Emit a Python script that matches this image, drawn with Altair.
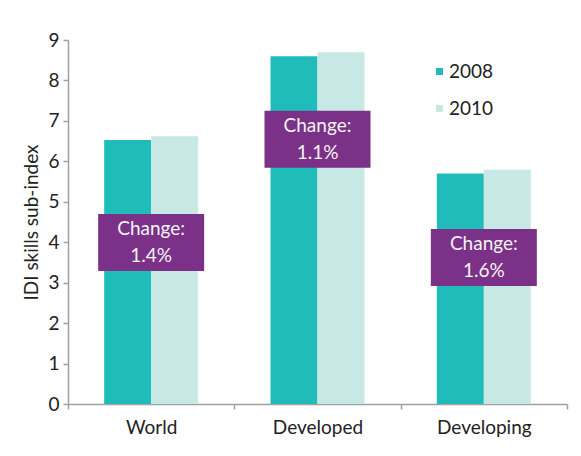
import altair as alt
import pandas as pd

groups = ["World", "Developed", "Developing"]
years = ["2008", "2010"]
v2008 = [6.53, 8.60, 5.70]
v2010 = [6.62, 8.70, 5.79]
changes = ["1.4%", "1.1%", "1.6%"]
box_top = [4.70, 7.25, 4.33]
box_bottom = [3.29, 5.84, 2.92]

FONT = "Lato"
TEAL = "#20bcb9"
LIGHT = "#c8e8e6"
PURPLE = "#7b3187"
TXT = "#222222"
GREY = "#a0a0a0"

rows = []
for g, a, b in zip(groups, v2008, v2010):
    rows.append({"group": g, "year": years[0], "value": a})
    rows.append({"group": g, "year": years[1], "value": b})
bars_df = pd.DataFrame(rows)

lab_df = pd.DataFrame({
    "group": groups,
    "top": box_top,
    "bottom": box_bottom,
    "mid": [(t + b) / 2 for t, b in zip(box_top, box_bottom)],
    "text": ["Change:\n" + c for c in changes],
})

xscale = alt.Scale(domain=groups, paddingInner=0, paddingOuter=0)
yscale = alt.Scale(domain=[0, 9], nice=False)

bars = alt.Chart(bars_df).mark_bar().encode(
    x=alt.X("group:N", scale=xscale, sort=groups,
            axis=alt.Axis(title=None, labelAngle=0, tickBand="extent",
                          labelFontSize=19, labelFont=FONT, labelColor=TXT,
                          labelPadding=9, tickSize=5, tickColor=GREY,
                          domainColor=GREY, domainWidth=1.5, tickWidth=1.5)),
    xOffset=alt.XOffset("year:N", scale=alt.Scale(paddingInner=0, paddingOuter=0.77)),
    y=alt.Y("value:Q", scale=yscale,
            axis=alt.Axis(title="IDI skills sub-index", values=list(range(10)),
                          grid=False, labelFontSize=19, labelFont=FONT,
                          labelColor=TXT, labelPadding=4, tickSize=5,
                          tickColor=GREY, domainColor=GREY, domainWidth=1.5,
                          tickWidth=1.5, titleFont=FONT, titleFontSize=19,
                          titleFontWeight="normal", titleColor=TXT,
                          titleX=-27, titleY=182)),
    color=alt.Color("year:N", scale=alt.Scale(domain=years, range=[TEAL, LIGHT]),
                    legend=alt.Legend(title=None, orient="none", legendX=362,
                                      legendY=22, symbolType="square",
                                      symbolSize=49, symbolStrokeWidth=0,
                                      labelFontSize=19, labelFont=FONT,
                                      labelColor=TXT, labelOffset=0,
                                      rowPadding=17, padding=0)),
)

boxes = alt.Chart(lab_df).mark_bar(width=106, color=PURPLE).encode(
    x=alt.X("group:N", scale=xscale, sort=groups),
    y=alt.Y("top:Q", scale=yscale),
    y2="bottom:Q",
)

texts = alt.Chart(lab_df).mark_text(
    lineBreak="\n", lineHeight=27, fontSize=19, font=FONT, color="#f4f4f4",
    baseline="middle", align="center", dy=-13.5
).encode(
    x=alt.X("group:N", scale=xscale, sort=groups),
    y=alt.Y("mid:Q", scale=yscale),
    text="text:N",
)

chart = alt.layer(bars, boxes, texts).properties(
    width=499, height=364,
    autosize=alt.AutoSizeParams(type="none"),
    padding={"left": 60, "top": 32, "right": 6, "bottom": 44},
    background="white",
).configure_view(stroke=None)

chart.save("out.html", embed_options={"renderer": "svg", "actions": False})
